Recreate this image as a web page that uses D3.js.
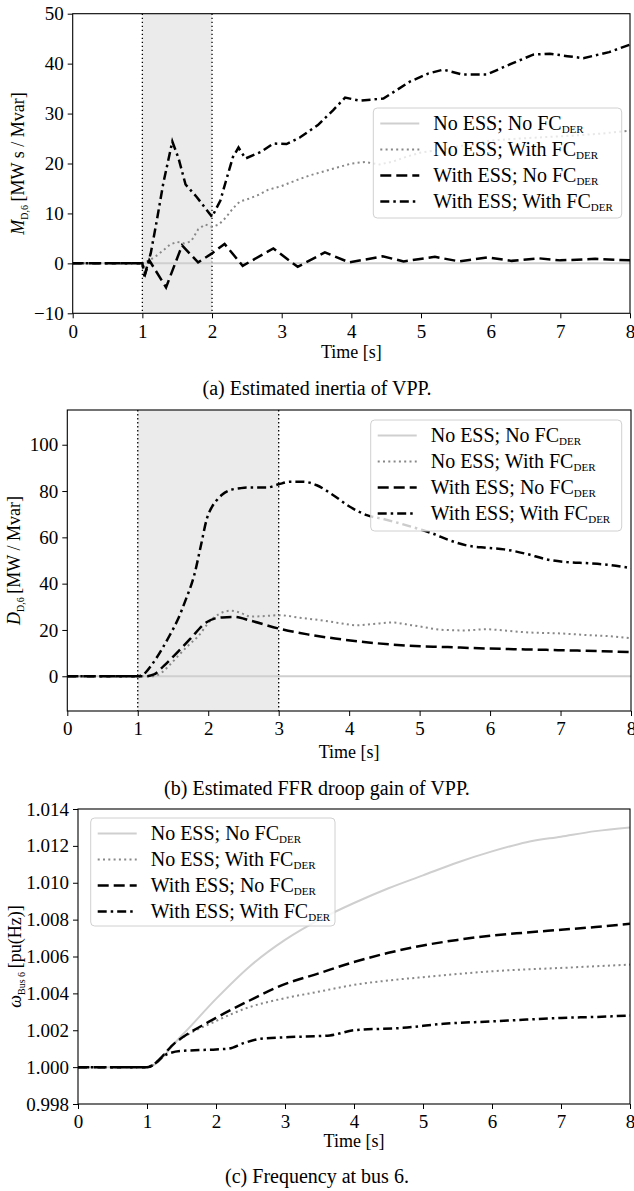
<!DOCTYPE html>
<html>
<head>
<meta charset="utf-8">
<script src="https://cdn.jsdelivr.net/npm/d3@7"></script>
<style>
    body { margin: 0; background: #ffffff; }
    svg text { font-family: 'Liberation Serif', 'Times New Roman', serif; fill: #000; }
</style>
</head>
<body>
<div id="graph"></div>
<script>

// Legend entries (same order in all three panels)
var seriesNames = [ 'No ESS; No FC', 'No ESS; With FC', 'With ESS; No FC', 'With ESS; With FC' ];
var timeTicks   = [ 0, 1, 2, 3, 4, 5, 6, 7, 8 ];

// (a) Estimated inertia of VPP [MW s / Mvar]
var inertiaTicks   = [ -10, 0, 10, 20, 30, 40, 50 ];
var inertiaBaseT   = [ 0, 1, 8 ];
var inertiaBaseV   = [ 0, 0, 0 ];
var inertiaFcT     = [ 0, 1.0, 1.1, 1.2, 1.3, 1.4, 1.5, 1.6, 1.7, 1.8, 1.9, 2.0, 2.1, 2.2, 2.3, 2.4, 2.5, 2.65, 2.8, 3.0,
                       3.2, 3.4, 3.6, 3.8, 4.0, 4.2, 4.4, 4.6, 4.8, 5.0, 5.3, 5.6, 6.0, 6.4, 6.8, 7.2, 7.6, 8.0 ];
var inertiaFcV     = [ 0, 0, 0.6, 1.5, 2.6, 3.8, 4.3, 4.0, 4.4, 6.8, 7.8, 7.3, 7.8, 9.2, 11.0, 12.4, 12.8, 13.6, 14.7, 15.5,
                       16.6, 17.6, 18.4, 19.2, 20.0, 20.3, 19.8, 20.4, 21.4, 22.2, 22.8, 23.6, 24.6, 25.0, 25.3, 25.6, 26.0, 26.6 ];
var inertiaEssT    = [ 0, 1.0, 1.03, 1.1, 1.34, 1.57, 1.8, 2.0, 2.18, 2.44, 2.88, 3.23, 3.62, 3.97, 4.45, 4.75,
                       5.2, 5.55, 5.95, 6.3, 6.7, 7.0, 7.5, 8.0 ];
var inertiaEssV    = [ 0, 0, -2.6, 0.6, -4.8, 3.6, 0.2, 2.0, 3.9, -0.5, 3.0, -0.7, 2.2, 0.2, 1.4, 0.4,
                       1.3, 0.4, 1.2, 0.5, 1.0, 0.6, 0.9, 0.6 ];
var inertiaEssFcT  = [ 0, 1.0, 1.04, 1.12, 1.2, 1.3, 1.43, 1.52, 1.62, 1.78, 1.88, 2.0, 2.12, 2.2, 2.3, 2.38, 2.48, 2.7,
                       2.88, 3.07, 3.26, 3.52, 3.74, 3.91, 4.12, 4.46, 4.84, 5.1, 5.32, 5.6, 5.94, 6.3, 6.61, 6.85,
                       7.1, 7.33, 7.7, 8.0 ];
var inertiaEssFcV  = [ 0, 0, -2.0, 2.0, 8.0, 16.0, 24.4, 21.0, 15.8, 13.3, 11.5, 9.3, 12.6, 16.5, 21.3, 23.2, 21.0, 22.3,
                       24.0, 23.9, 25.2, 27.7, 30.7, 33.2, 32.6, 33.0, 36.4, 38.0, 38.8, 37.8, 37.8, 40.0, 41.8, 42.0,
                       41.5, 41.1, 42.3, 43.8 ];

// (b) Estimated FFR droop gain of VPP [MW / Mvar]
var droopTicks     = [ 0, 20, 40, 60, 80, 100 ];
var droopBaseT     = [ 0, 1, 8 ];
var droopBaseV     = [ 0, 0, 0 ];
var droopFcT       = [ 0, 1.0, 1.2, 1.34, 1.45, 1.57, 1.7, 1.86, 2.03, 2.15, 2.32, 2.45, 2.6, 2.8, 3.0, 3.3, 3.64,
                       3.9, 4.1, 4.35, 4.61, 4.9, 5.36, 5.65, 5.94, 6.2, 6.5, 7.0, 7.38, 7.7, 8.0 ];
var droopFcV       = [ 0, 0, 0, 1.6, 4.8, 8.7, 12.8, 17.4, 24.0, 26.8, 28.3, 27.5, 25.8, 26.0, 26.4, 25.3, 24.0,
                       22.8, 22.0, 22.6, 23.2, 22.0, 20.0, 19.8, 20.3, 19.8, 19.0, 18.5, 17.8, 17.3, 16.4 ];
var droopEssT      = [ 0, 1.0, 1.1, 1.23, 1.37, 1.51, 1.74, 1.97, 2.1, 2.2, 2.37, 2.6, 3.0, 3.41, 3.8, 4.21, 4.79,
                       5.4, 5.94, 6.5, 7.09, 7.6, 8.0 ];
var droopEssV      = [ 0, 0, 0, 0.8, 4.5, 8.7, 16.0, 23.2, 25.0, 25.4, 25.6, 24.0, 20.6, 18.1, 16.3, 14.8, 13.3,
                       12.6, 12.0, 11.6, 11.2, 10.8, 10.4 ];
var droopEssFcT    = [ 0, 1.0, 1.11, 1.2, 1.34, 1.45, 1.57, 1.68, 1.8, 1.9, 1.98, 2.05, 2.12, 2.2, 2.31, 2.45, 2.55,
                       2.83, 3.0, 3.16, 3.35, 3.54, 3.77, 4.01, 4.25, 4.5, 4.72, 5.0, 5.19, 5.4, 5.67, 5.94, 6.2,
                       6.51, 6.8, 7.09, 7.4, 7.66, 8.0 ];
var droopEssFcV    = [ 0, 0, 1.6, 5.0, 11.6, 17.5, 24.6, 33.0, 43.5, 57.0, 68.0, 73.0, 76.0, 78.5, 80.4, 81.2, 81.5,
                       81.5, 82.9, 84.0, 84.0, 82.5, 78.3, 73.2, 69.6, 67.8, 66.0, 63.5, 61.6, 59.0, 56.5, 55.5, 54.8,
                       52.9, 50.5, 49.3, 48.8, 48.2, 46.7 ];

// (c) Frequency at bus 6 [pu(Hz)]
var freqTicks      = [ 0.998, 1.000, 1.002, 1.004, 1.006, 1.008, 1.010, 1.012, 1.014 ];
var freqBaseT      = [ 0, 1, 1.5, 2, 2.5, 3, 3.5, 4, 4.5, 5, 5.5, 6, 6.5, 7, 7.5, 8 ];
var freqBaseV      = [ 1, 1, 1.0017, 1.0037, 1.0055, 1.0069, 1.0080, 1.0089, 1.0097, 1.0104, 1.0111, 1.0117,
                       1.0122, 1.0125, 1.0128, 1.0130 ];
var freqFcT        = [ 0, 1, 1.42, 2, 2.48, 2.95, 3.5, 4, 4.5, 5, 5.5, 6, 6.5, 7, 7.5, 8 ];
var freqFcV        = [ 1, 1, 1.00136, 1.0025, 1.00325, 1.0037, 1.0041, 1.00446, 1.0047, 1.00488, 1.00505, 1.0052,
                       1.0053, 1.00538, 1.00547, 1.00556 ];
var freqEssT       = [ 0, 1, 1.42, 2, 2.48, 2.95, 3.5, 4, 4.5, 5, 5.5, 6, 6.5, 7, 7.5, 8 ];
var freqEssV       = [ 1, 1, 1.00136, 1.00267, 1.0036, 1.00443, 1.0051, 1.0057, 1.0062, 1.0066, 1.0069, 1.00714,
                       1.0073, 1.00745, 1.0076, 1.00778 ];
var freqEssFcT     = [ 0, 1, 1.3, 1.48, 2.0, 2.18, 2.4, 2.65, 3.07, 3.65, 4.0, 4.71, 5.3, 6.0, 6.5, 7.0, 7.5, 8 ];
var freqEssFcV     = [ 1, 1, 1.00072, 1.00087, 1.00096, 1.001, 1.0013, 1.00154, 1.00163, 1.00172, 1.002, 1.00213,
                       1.00235, 1.00248, 1.00258, 1.00267, 1.00272, 1.0028 ];


// line styles of the four cases
var styles = [
    { stroke: '#cfcfcf', width: 2,   dash: null },
    { stroke: '#888888', width: 2,   dash: '2,3.3' },
    { stroke: '#000000', width: 2.5, dash: '11,5' },
    { stroke: '#000000', width: 2.5, dash: '9,4,2.5,4' }
];

var svg = d3.select ('#graph')
            .append ('svg')
            .attr ('width', 634)
            .attr ('height', 1191);

function zip (t, v)
{
    return t.map (function (d, i) { return { t: d, v: v[i] }; });
}

//
// drawPanel
//
function drawPanel (p)
{
    var xScale = d3.scaleLinear ().domain ([0, 8]).range ([p.left, p.right]);
    var yScale = d3.scaleLinear ().domain (p.yDomain).range ([p.bottom, p.top]);

    var g = svg.append ('g');

    g.append ('clipPath')
     .attr ('id', p.id + 'Clip')
     .append ('rect')
     .attr ('x', p.left)
     .attr ('y', p.top)
     .attr ('width', p.right - p.left)
     .attr ('height', p.bottom - p.top);

    // shaded window with dotted borders
    if (p.shade)
    {
        g.append ('rect')
         .attr ('x', xScale (p.shade[0]))
         .attr ('y', p.top)
         .attr ('width', xScale (p.shade[1]) - xScale (p.shade[0]))
         .attr ('height', p.bottom - p.top)
         .style ('fill', '#ebebeb');

        g.selectAll ('.shadeLine')
         .data (p.shade)
         .enter ()
         .append ('line')
         .attr ('x1', function (d) { return xScale (d); })
         .attr ('x2', function (d) { return xScale (d); })
         .attr ('y1', p.top)
         .attr ('y2', p.bottom)
         .style ('stroke', '#000')
         .style ('stroke-width', 1.3)
         .style ('stroke-dasharray', '1.4,2.6');
    }

    var line = d3.line ()
                 .x (function (d) { return xScale (d.t); })
                 .y (function (d) { return yScale (d.v); })
                 .curve (p.curve);

    p.series.forEach (function (s, i)
    {
        g.append ('path')
         .datum (s)
         .attr ('d', line)
         .attr ('clip-path', 'url(#' + p.id + 'Clip)')
         .style ('fill', 'none')
         .style ('stroke', styles[i].stroke)
         .style ('stroke-width', styles[i].width)
         .style ('stroke-dasharray', styles[i].dash);
    });

    // axes
    var xAxis = d3.axisBottom (xScale)
                  .tickValues (timeTicks)
                  .tickFormat (d3.format ('d'))
                  .tickSize (5)
                  .tickSizeOuter (0)
                  .tickPadding (6);

    var yAxis = d3.axisLeft (yScale)
                  .tickValues (p.yTicks)
                  .tickFormat (p.yFormat)
                  .tickSize (5)
                  .tickSizeOuter (0)
                  .tickPadding (4);

    var gx = g.append ('g')
              .attr ('transform', 'translate(0,' + p.bottom + ')')
              .call (xAxis);

    var gy = g.append ('g')
              .attr ('transform', 'translate(' + p.left + ',0)')
              .call (yAxis);

    [gx, gy].forEach (function (a)
    {
        a.select ('.domain').remove ();
        a.selectAll ('line').style ('stroke', '#000').style ('stroke-width', 1);
        a.selectAll ('text')
         .style ('font-family', "'Liberation Serif', serif")
         .style ('font-size', '19px')
         .style ('fill', '#000');
    });

    g.append ('rect')
     .attr ('x', p.left)
     .attr ('y', p.top)
     .attr ('width', p.right - p.left)
     .attr ('height', p.bottom - p.top)
     .style ('fill', 'none')
     .style ('stroke', '#000')
     .style ('stroke-width', 1.1);

    // axis labels
    g.append ('text')
     .attr ('x', (p.left + p.right) / 2)
     .attr ('y', p.xLabelY)
     .attr ('text-anchor', 'middle')
     .style ('font-size', '18px')
     .text ('Time [s]');

    var yl = g.append ('text')
              .attr ('transform', 'translate(' + p.yLabelX + ',' + (p.top + p.bottom) / 2 + ') rotate(-90)')
              .attr ('text-anchor', 'middle')
              .style ('font-size', '18px');

    yl.append ('tspan').style ('font-style', 'italic').text (p.yLabel[0]);
    yl.append ('tspan').attr ('dy', 4).style ('font-size', '10px').text (p.yLabel[1]);
    yl.append ('tspan').attr ('dy', -4).text ('\u2009' + p.yLabel[2]);

    // legend
    var lg = g.append ('g')
              .attr ('transform', 'translate(' + p.legend[0] + ',' + p.legend[1] + ')');

    lg.append ('rect')
      .attr ('width', p.legend[2])
      .attr ('height', p.legend[3])
      .attr ('rx', 4)
      .style ('fill', '#fff')
      .style ('fill-opacity', 0.8)
      .style ('stroke', '#d0d0d0')
      .style ('stroke-width', 1);

    var rows = lg.selectAll ('.row')
                 .data (seriesNames)
                 .enter ()
                 .append ('g')
                 .attr ('transform', function (d, i) { return 'translate(0,' + (15.5 + i * 26) + ')'; });

    rows.append ('line')
        .attr ('x1', 7)
        .attr ('x2', 46)
        .style ('stroke', function (d, i) { return styles[i].stroke; })
        .style ('stroke-width', function (d, i) { return styles[i].width; })
        .style ('stroke-dasharray', function (d, i) { return styles[i].dash; });

    var lt = rows.append ('text')
                 .attr ('x', 60)
                 .attr ('y', 6.5)
                 .style ('font-size', '20px');

    lt.append ('tspan').text (function (d) { return d; });
    lt.append ('tspan').attr ('dy', 3).style ('font-size', '11px').text ('DER');

    // caption
    svg.append ('text')
       .attr ('x', 317)
       .attr ('y', p.captionY)
       .attr ('text-anchor', 'middle')
       .style ('font-size', '20px')
       .text (p.caption);
}


drawPanel ({
    id: 'inertia', left: 72.7, right: 630, top: 13.7, bottom: 313.3,
    yDomain: [-10, 50], yTicks: inertiaTicks, yFormat: d3.format ('d'),
    shade: [1, 2], curve: d3.curveLinear,
    series: [ zip (inertiaBaseT, inertiaBaseV), zip (inertiaFcT, inertiaFcV),
              zip (inertiaEssT, inertiaEssV), zip (inertiaEssFcT, inertiaEssFcV) ],
    legend: [373.3, 108, 248.4, 110],
    xLabelY: 358, yLabelX: 24,
    yLabel: ['M', 'D,6', '[MW s / Mvar]'],
    caption: '(a) Estimated inertia of VPP.', captionY: 395
});

drawPanel ({
    id: 'droop', left: 67.3, right: 631, top: 410, bottom: 711,
    yDomain: [-15, 115], yTicks: droopTicks, yFormat: d3.format ('d'),
    shade: [1, 3], curve: d3.curveMonotoneX,
    series: [ zip (droopBaseT, droopBaseV), zip (droopFcT, droopFcV),
              zip (droopEssT, droopEssV), zip (droopEssFcT, droopEssFcV) ],
    legend: [370.7, 420, 251, 111],
    xLabelY: 758, yLabelX: 20,
    yLabel: ['D', 'D,6', '[MW / Mvar]'],
    caption: '(b) Estimated FFR droop gain of VPP.', captionY: 795
});

drawPanel ({
    id: 'freq', left: 78, right: 630, top: 809, bottom: 1104,
    yDomain: [0.998, 1.014], yTicks: freqTicks, yFormat: d3.format ('.3f'),
    shade: null, curve: d3.curveMonotoneX,
    series: [ zip (freqBaseT, freqBaseV), zip (freqFcT, freqFcV),
              zip (freqEssT, freqEssV), zip (freqEssFcT, freqEssFcV) ],
    legend: [90.7, 818, 244.3, 108],
    xLabelY: 1147, yLabelX: 21,
    yLabel: ['\u03c9', 'Bus 6', '[pu(Hz)]'],
    caption: '(c) Frequency at bus 6.', captionY: 1183
});

</script>
</body>
</html>
